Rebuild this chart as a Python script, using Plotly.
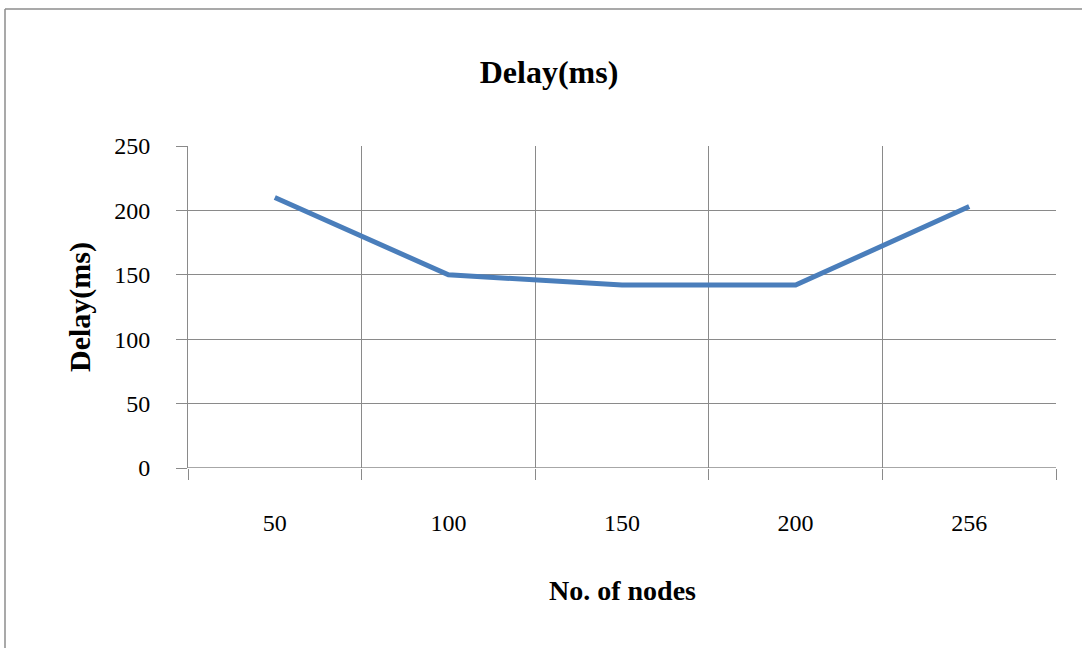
import plotly.graph_objects as go

# Delay measured for each network size
nodes = ["50", "100", "150", "200", "256"]
delay_ms = [210, 150, 142, 142, 203]
y_ticks = [0, 50, 100, 150, 200, 250]

FONT = "Liberation Serif"
GRID = "#8a8a8a"

positions = list(range(len(nodes)))
boundaries = [p - 0.5 for p in positions] + [positions[-1] + 0.5]

fig = go.Figure(
    go.Scatter(
        x=positions,
        y=delay_ms,
        mode="lines",
        line=dict(color="#4a7ebb", width=5),
        showlegend=False,
        hoverinfo="x+y",
    )
)

L, R, T, B = 188, 26, 146, 180
W, H = 1082, 648
pw, ph = W - L - R, H - T - B

fig.update_layout(
    width=W,
    height=H,
    margin=dict(l=L, r=R, t=T, b=B),
    paper_bgcolor="white",
    plot_bgcolor="white",
    title=dict(
        text="<b>Delay(ms)</b>",
        x=549 / W,
        xref="container",
        xanchor="center",
        y=1 - 72 / H,
        yref="container",
        yanchor="middle",
        font=dict(family=FONT, size=32, color="black"),
    ),
    font=dict(family=FONT, color="black"),
)

fig.update_xaxes(
    range=[-0.5, len(nodes) - 0.5],
    tickmode="array",
    tickvals=positions,
    ticktext=nodes,
    ticks="",
    showgrid=False,
    zeroline=False,
    showline=False,
    tickfont=dict(family=FONT, size=24, color="black"),
    ticklabelstandoff=38,
    minor=dict(
        tickmode="array",
        tickvals=boundaries,
        ticks="outside",
        ticklen=11,
        tickcolor=GRID,
        tickwidth=1,
        showgrid=True,
        gridcolor=GRID,
        gridwidth=1,
    ),
    fixedrange=True,
)

fig.update_yaxes(
    range=[0, 250],
    tickmode="array",
    tickvals=y_ticks,
    ticks="outside",
    ticklen=11,
    tickcolor=GRID,
    showgrid=True,
    gridcolor=GRID,
    gridwidth=1,
    zeroline=False,
    showline=True,
    linecolor=GRID,
    linewidth=1,
    tickfont=dict(family=FONT, size=24, color="black"),
    ticklabelstandoff=21,
    fixedrange=True,
)

# Horizontal baseline at zero across the plot
fig.add_shape(type="line", xref="paper", yref="y", x0=0, x1=1, y0=0, y1=0,
              line=dict(color=GRID, width=1.5))

# Axis titles
fig.add_annotation(
    text="<b>No. of nodes</b>", xref="paper", yref="paper",
    x=0.5, y=(468 - 590) / ph, xanchor="center", yanchor="middle",
    showarrow=False, font=dict(family=FONT, size=28, color="black"),
)
fig.add_annotation(
    text="<b>Delay(ms)</b>", xref="paper", yref="paper",
    x=(80 - L) / pw, y=0.5, xanchor="center", yanchor="middle",
    textangle=-90, showarrow=False,
    font=dict(family=FONT, size=30, color="black"),
)

# Chart frame (top and left edges)
fx0 = (5 - L) / pw
fy0 = (468 - 9) / ph
fig.add_shape(type="line", xref="paper", yref="paper",
              x0=fx0, x1=(W - L) / pw + 0.01, y0=fy0, y1=fy0,
              line=dict(color="#8c8c8c", width=1.5))
fig.add_shape(type="line", xref="paper", yref="paper",
              x0=fx0, x1=fx0, y0=fy0, y1=(468 - H) / ph - 0.01,
              line=dict(color="#8c8c8c", width=1.5))

fig.write_html("out.html")
